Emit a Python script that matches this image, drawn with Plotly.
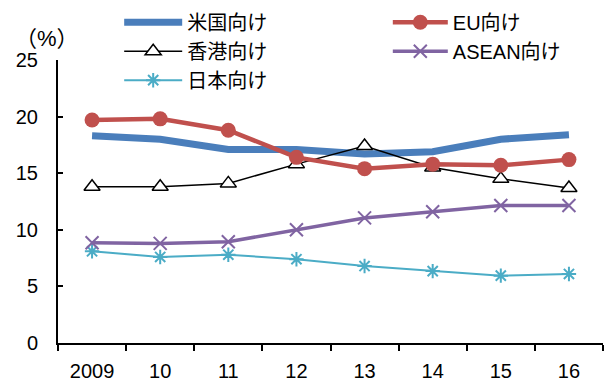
import plotly.graph_objects as go

years = ["2009", "10", "11", "12", "13", "14", "15", "16"]
us = [18.3, 18.0, 17.1, 17.1, 16.7, 16.9, 18.0, 18.4]
eu = [19.7, 19.8, 18.8, 16.4, 15.4, 15.8, 15.7, 16.2]
hk = [13.8, 13.8, 14.1, 15.8, 17.4, 15.5, 14.5, 13.7]
asean = [8.85, 8.8, 8.95, 10.0, 11.05, 11.6, 12.15, 12.15]
japan = [8.1, 7.6, 7.8, 7.4, 6.8, 6.35, 5.95, 6.1]

FONT = "Arial, 'Liberation Sans', 'Noto Sans CJK JP', sans-serif"

fig = go.Figure()
fig.add_trace(go.Scatter(x=years, y=us, name="米国向け", mode="lines",
                         line=dict(color="#4A7EBB", width=7), legend="legend"))
fig.add_trace(go.Scatter(x=years, y=hk, name="香港向け", mode="lines+markers",
                         line=dict(color="black", width=1.5),
                         marker=dict(symbol="triangle-up", size=14, color="white",
                                     line=dict(color="black", width=1.5)),
                         legend="legend"))
fig.add_trace(go.Scatter(x=years, y=japan, name="日本向け", mode="lines+markers",
                         line=dict(color="#4BACC6", width=2),
                         marker=dict(symbol="asterisk-open", size=12,
                                     line=dict(color="#4BACC6", width=2)),
                         legend="legend"))
fig.add_trace(go.Scatter(x=years, y=eu, name="EU向け", mode="lines+markers",
                         line=dict(color="#C0504D", width=4.5),
                         marker=dict(symbol="circle", size=15, color="#C0504D"),
                         legend="legend2"))
fig.add_trace(go.Scatter(x=years, y=asean, name="ASEAN向け", mode="lines+markers",
                         line=dict(color="#8064A2", width=3.5),
                         marker=dict(symbol="x-thin-open", size=13,
                                     line=dict(color="#8064A2", width=2)),
                         legend="legend2"))

fig.update_layout(
    width=605, height=383,
    margin=dict(l=58, r=2, t=60, b=40, autoexpand=False),
    paper_bgcolor="white", plot_bgcolor="white",
    font=dict(family=FONT, size=20, color="black"),
    legend=dict(x=0.197, y=0.993, xref="container", yref="container",
                xanchor="left", yanchor="top",
                bgcolor="rgba(0,0,0,0)", tracegroupgap=0, itemwidth=58,
                font=dict(size=20)),
    legend2=dict(x=0.641, y=0.993, xref="container", yref="container",
                 xanchor="left", yanchor="top",
                 bgcolor="rgba(0,0,0,0)", itemwidth=55, font=dict(size=20)),
    xaxis=dict(type="category", showline=True, linecolor="black", linewidth=2,
               ticks="outside", tickson="boundaries", ticklen=6, tickwidth=2,
               tickcolor="black", showgrid=False, zeroline=False,
               range=[-0.5, 7.5], tickfont=dict(size=20), ticklabelstandoff=9),
    yaxis=dict(range=[0, 25], dtick=5, showline=True, linecolor="black", linewidth=2,
               ticks="inside", ticklen=5, tickwidth=2, tickcolor="black",
               showgrid=False, zeroline=False, tickfont=dict(size=20),
               ticklabelstandoff=14),
    annotations=[dict(text="（%）", xref="paper", yref="paper", x=-0.02, y=1.025,
                      xanchor="center", yanchor="bottom", showarrow=False,
                      font=dict(size=22))],
)

fig.write_html("out.html")
